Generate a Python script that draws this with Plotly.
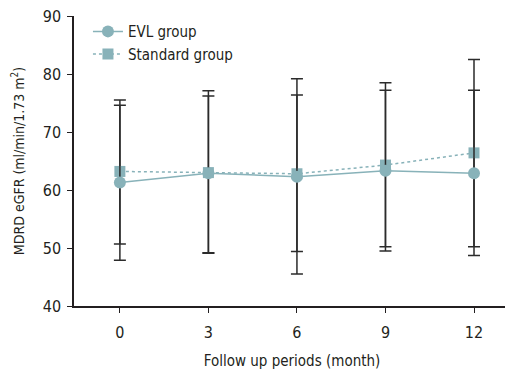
import plotly.graph_objects as go

months = [0, 3, 6, 9, 12]
tick_labels = ["0", "3", "6", "9", "12"]

evl_mean = [61.3, 62.9, 62.3, 63.3, 62.9]
evl_upper = [74.6, 77.1, 79.2, 77.2, 77.2]
evl_lower = [47.9, 49.1, 45.5, 49.5, 48.7]

std_mean = [63.2, 63.0, 62.8, 64.3, 66.4]
std_upper = [75.5, 76.2, 76.4, 78.5, 82.5]
std_lower = [50.7, 49.2, 49.4, 50.2, 50.2]

teal = "#88b2b9"
err_col = "#2b2b2b"
font_family = "'DejaVu Sans Condensed', 'Liberation Sans Narrow', sans-serif"

fig = go.Figure()

fig.add_trace(go.Scatter(
    x=months, y=std_mean, name="Standard group", mode="lines+markers",
    line=dict(color=teal, width=1.5, dash="dot"),
    marker=dict(symbol="square", size=11, color=teal),
    error_y=dict(type="data", symmetric=False,
                 array=[u - m for u, m in zip(std_upper, std_mean)],
                 arrayminus=[m - l for m, l in zip(std_mean, std_lower)],
                 color=err_col, thickness=1.5, width=6),
))
fig.add_trace(go.Scatter(
    x=months, y=evl_mean, name="EVL group", mode="lines+markers",
    line=dict(color=teal, width=1.5),
    marker=dict(symbol="circle", size=12, color=teal),
    error_y=dict(type="data", symmetric=False,
                 array=[u - m for u, m in zip(evl_upper, evl_mean)],
                 arrayminus=[m - l for m, l in zip(evl_mean, evl_lower)],
                 color=err_col, thickness=1.5, width=6),
))

fig.update_layout(
    width=505, height=364,
    margin=dict(l=66, r=3, t=8, b=66),
    paper_bgcolor="white", plot_bgcolor="white",
    font=dict(family=font_family, size=15, color="#231f20"),
    showlegend=True,
    legend=dict(x=0.032, y=1.003, xanchor="left", yanchor="top",
                traceorder="reversed", bgcolor="rgba(0,0,0,0)",
                font=dict(size=15), itemwidth=30, tracegroupgap=0),
    xaxis=dict(range=[-1.555, 13.22], tickvals=months, ticktext=tick_labels,
               showgrid=False, zeroline=False, showline=True, automargin=False,
               linecolor="#231f20", linewidth=1.5, ticks="outside",
               ticklen=5, tickwidth=1.2, tickcolor="#231f20",
               tickfont=dict(size=16), ticklabelstandoff=6,
               ticklabeloverflow="allow",
               title=dict(text="Follow up periods (month)", font=dict(size=15), standoff=15)),
    yaxis=dict(range=[40, 90], tickvals=[40, 50, 60, 70, 80, 90],
               showgrid=False, zeroline=False, showline=True, automargin=False,
               linecolor="#231f20", linewidth=1.5, ticks="outside",
               ticklen=5, tickwidth=1.2, tickcolor="#231f20",
               tickfont=dict(size=16), ticklabelstandoff=3,
               ticklabeloverflow="allow",
               title=dict(text="MDRD eGFR (ml/min/1.73 m<sup>2</sup>)", font=dict(size=14), standoff=15)),
)

fig.write_html("out.html")
